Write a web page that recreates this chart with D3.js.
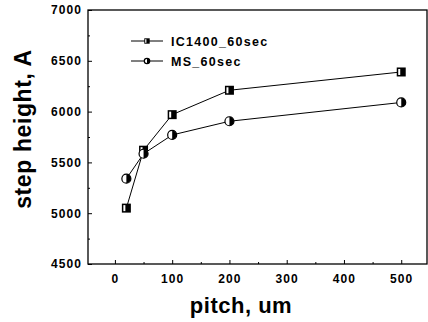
<!DOCTYPE html>
<html>
<head>
<meta charset="utf-8">
<script src="https://cdn.jsdelivr.net/npm/d3@7"></script>
<style>
  body { margin: 0; background: #fff; }
  text { font-family: Arial, "Liberation Sans", sans-serif; font-weight: bold; fill: #000; }
</style>
</head>
<body>
<svg width="428" height="322"></svg>
<script>
var pitch = [20, 50, 100, 200, 500];
var ic1400 = [5050, 5620, 5970, 6210, 6390];
var ms = [5340, 5585, 5770, 5905, 6090];
var xTicks = [0, 100, 200, 300, 400, 500];
var yTicks = [4500, 5000, 5500, 6000, 6500, 7000];
var seriesNames = ["IC1400_60sec", "MS_60sec"];

var svg = d3.select("svg");
var plotLeft = 88, plotTop = 10, plotRight = 427, plotBottom = 264;

var x = d3.scaleLinear().domain([-47, 545]).range([plotLeft, plotRight]);
var y = d3.scaleLinear().domain([4500, 7000]).range([plotBottom, plotTop]);

// frame
svg.append("rect")
    .attr("x", plotLeft).attr("y", plotTop)
    .attr("width", plotRight - plotLeft).attr("height", plotBottom - plotTop)
    .attr("fill", "none").attr("stroke", "#000").attr("stroke-width", 1.3);

// x axis (ticks inward)
var xAxis = d3.axisBottom(x).tickValues(xTicks).tickSize(-4).tickPadding(9).tickFormat(d3.format("d"));
var gx = svg.append("g").attr("transform", "translate(0," + plotBottom + ")").call(xAxis);
gx.select(".domain").remove();
gx.selectAll("text").attr("font-size", 12).attr("letter-spacing", 1.1).attr("dy", "0.8em");
svg.append("g").attr("transform", "translate(0," + plotBottom + ")")
    .call(d3.axisBottom(x).tickValues(d3.range(50, 550, 100)).tickSize(-2).tickFormat(""))
    .select(".domain").remove();

// y axis (ticks inward)
var yAxis = d3.axisLeft(y).tickValues(yTicks).tickSize(-4).tickPadding(6).tickFormat(d3.format("d"));
var gy = svg.append("g").attr("transform", "translate(" + plotLeft + ",0)").call(yAxis);
gy.select(".domain").remove();
gy.selectAll("text").attr("font-size", 12).attr("letter-spacing", 1.1);
svg.append("g").attr("transform", "translate(" + plotLeft + ",0)")
    .call(d3.axisLeft(y).tickValues(d3.range(4750, 7000, 500)).tickSize(-2).tickFormat(""))
    .select(".domain").remove();

// axis titles
svg.append("text")
    .attr("x", 241).attr("y", 313)
    .attr("text-anchor", "middle")
    .attr("font-size", 22).attr("letter-spacing", 0.5)
    .text("pitch, um");
svg.append("text")
    .attr("transform", "translate(31,129) rotate(-90)")
    .attr("text-anchor", "middle")
    .attr("font-size", 23).attr("letter-spacing", 0.6)
    .text("step height, A");

var line = d3.line().x(function(d) { return x(d[0]); }).y(function(d) { return y(d[1]); });

function drawSeries(vals, shape) {
    var pts = pitch.map(function(p, i) { return [p, vals[i]]; });
    svg.append("path").datum(pts)
        .attr("d", line)
        .attr("fill", "none").attr("stroke", "#000").attr("stroke-width", 1);
    pts.forEach(function(p) {
        drawMarker(x(p[0]), y(p[1]), shape, 1);
    });
}

function drawMarker(cx, cy, shape, s) {
    if (shape === "square") {
        var h = 4.5 * s;
        svg.append("rect").attr("x", cx - h).attr("y", cy - h)
            .attr("width", 2 * h).attr("height", 2 * h)
            .attr("fill", "#000");
        svg.append("rect").attr("x", cx - h + 1.5 * s).attr("y", cy - h + 1.5 * s)
            .attr("width", 2 * s).attr("height", 2 * h - 3 * s)
            .attr("fill", "#fff");
    } else {
        var r = 4.5 * s;
        svg.append("circle").attr("cx", cx).attr("cy", cy).attr("r", r)
            .attr("fill", "#fff").attr("stroke", "#000").attr("stroke-width", 1.2);
        svg.append("path")
            .attr("d", "M" + cx + "," + (cy - r) + "A" + r + "," + r + " 0 0,1 " + cx + "," + (cy + r) + "Z")
            .attr("fill", "#000");
    }
}

drawSeries(ic1400, "square");
drawSeries(ms, "circle");

// legend
var legendY = [41, 61];
var legendShape = ["square", "circle"];
seriesNames.forEach(function(name, i) {
    svg.append("line").attr("x1", 131).attr("x2", 163)
        .attr("y1", legendY[i]).attr("y2", legendY[i])
        .attr("stroke", "#000").attr("stroke-width", 1);
    drawMarker(147, legendY[i], legendShape[i], 0.6);
    svg.append("text").attr("x", 171).attr("y", legendY[i] + 5)
        .attr("font-size", 12.5).attr("letter-spacing", 1.3)
        .text(name);
});
</script>
</body>
</html>
